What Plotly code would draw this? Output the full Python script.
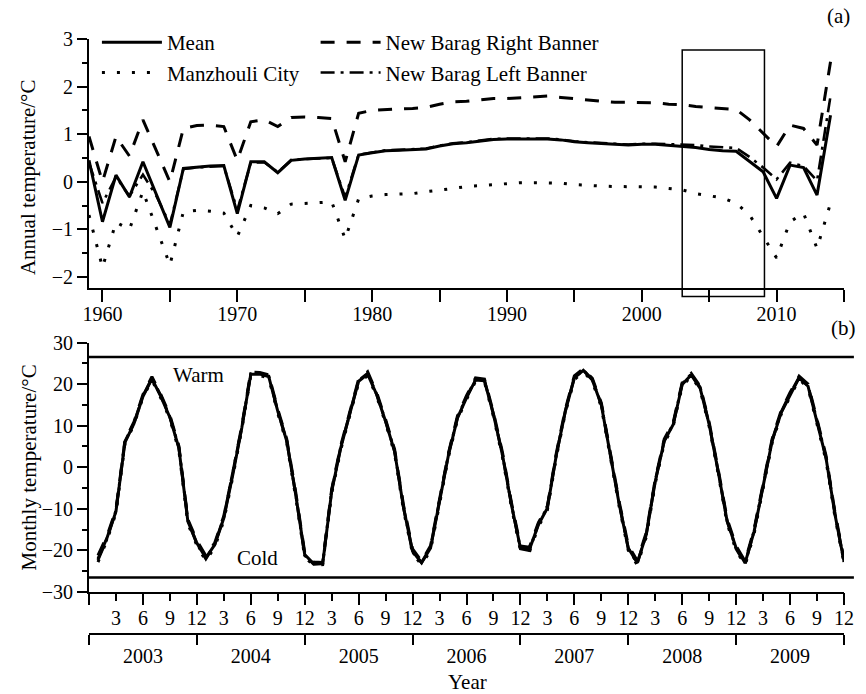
import plotly.graph_objects as go

# ---------------- data: panel (a) annual temperature ----------------
years = list(range(1959, 2015))
mean_annual = [0.45, -0.84, 0.14, -0.32, 0.42, -0.26, -0.96, 0.28, 0.31, 0.33,
               0.34, -0.67, 0.42, 0.42, 0.19, 0.45, 0.48, 0.49, 0.51, -0.39,
               0.56, 0.61, 0.65, 0.66, 0.67, 0.69, 0.75, 0.80, 0.82, 0.86,
               0.89, 0.90, 0.90, 0.90, 0.90, 0.88, 0.84, 0.82, 0.81, 0.79,
               0.77, 0.79, 0.79, 0.77, 0.74, 0.72, 0.68, 0.65, 0.64, 0.43,
               0.21, -0.35, 0.35, 0.30, -0.28, 1.40]
manzhouli_annual = [-0.70, -1.80, -0.85, -1.00, -0.20, -0.97, -1.75, -0.63, -0.60, -0.62,
                    -0.66, -1.15, -0.50, -0.55, -0.67, -0.47, -0.46, -0.44, -0.42, -1.20,
                    -0.36, -0.30, -0.27, -0.26, -0.25, -0.21, -0.18, -0.14, -0.10, -0.08,
                    -0.05, -0.03, -0.02, -0.02, -0.02, -0.03, -0.06, -0.08, -0.09, -0.10,
                    -0.10, -0.10, -0.11, -0.14, -0.17, -0.25, -0.30, -0.34, -0.45, -0.70,
                    -1.15, -1.60, -0.84, -0.66, -1.40, -0.45]
right_banner_annual = [0.95, 0.00, 0.95, 0.54, 1.30, 0.65, 0.00, 1.12, 1.18, 1.19,
                       1.16, 0.45, 1.26, 1.30, 1.16, 1.35, 1.36, 1.35, 1.33, 0.42,
                       1.44, 1.50, 1.52, 1.53, 1.54, 1.56, 1.63, 1.68, 1.69, 1.72,
                       1.75, 1.75, 1.77, 1.79, 1.80, 1.77, 1.75, 1.72, 1.69, 1.67,
                       1.67, 1.66, 1.66, 1.63, 1.62, 1.58, 1.56, 1.53, 1.52, 1.30,
                       1.02, 0.74, 1.19, 1.12, 0.77, 2.52]
left_banner_annual = [0.40, -0.45, 0.10, -0.30, 0.15, -0.30, -0.90, 0.27, 0.30, 0.32,
                      0.33, -0.60, 0.40, 0.41, 0.20, 0.46, 0.48, 0.49, 0.50, -0.33,
                      0.57, 0.62, 0.66, 0.67, 0.68, 0.70, 0.76, 0.81, 0.83, 0.87,
                      0.90, 0.91, 0.91, 0.91, 0.91, 0.89, 0.85, 0.83, 0.82, 0.80,
                      0.78, 0.80, 0.80, 0.79, 0.78, 0.77, 0.74, 0.72, 0.71, 0.52,
                      0.30, 0.05, 0.40, 0.33, 0.02, 1.80]

# ---------------- data: panel (b) monthly temperature 2003-2009 ----------------
month_index = list(range(1, 85))   # 1 = Jan 2003 ... 84 = Dec 2009
mean_monthly = [
    -22.0, -17.0, -10.6, 6.0, 10.5, 17.0, 21.3, 17.0, 12.0, 4.6, -13.0, -18.2,
    -21.8, -18.6, -12.2, -1.8, 9.5, 22.4, 22.4, 21.8, 13.5, 6.3, -6.6, -21.0,
    -23.2, -23.2, -5.8, 4.6, 12.7, 20.7, 22.4, 17.5, 11.0, 3.8, -9.8, -20.2,
    -23.0, -19.4, -8.2, 3.0, 11.9, 16.7, 21.0, 20.8, 12.7, 3.0, -9.0, -19.4,
    -19.8, -13.8, -9.8, 3.0, 13.5, 21.5, 23.3, 21.0, 15.0, 3.0, -9.0, -19.4,
    -23.0, -16.2, -3.4, 6.3, 10.3, 19.9, 22.2, 19.0, 10.3, -1.0, -13.0, -19.4,
    -23.0, -15.4, -4.2, 6.3, 13.1, 17.5, 21.5, 19.5, 11.0, 2.2, -11.4, -22.6]
manzhouli_monthly = [
    -22.8, -17.6, -11.0, 5.6, 10.2, 16.8, 21.0, 16.6, 11.6, 4.0, -13.6, -18.8,
    -22.5, -19.2, -12.8, -2.3, 9.1, 22.0, 22.1, 21.4, 13.0, 5.8, -7.2, -21.6,
    -23.6, -23.4, -6.3, 4.1, 12.3, 20.3, 22.0, 17.1, 10.6, 3.3, -10.4, -20.8,
    -23.4, -20.0, -8.8, 2.5, 11.5, 16.3, 20.6, 20.5, 12.2, 2.4, -9.6, -20.0,
    -20.4, -14.3, -10.3, 2.5, 13.1, 21.1, 23.0, 20.6, 14.5, 2.4, -9.6, -20.0,
    -23.5, -16.8, -3.9, 5.8, 9.9, 19.5, 21.9, 18.6, 9.8, -1.5, -13.6, -20.0,
    -23.6, -16.0, -4.8, 5.8, 12.7, 17.1, 21.2, 19.1, 10.5, 1.6, -12.0, -23.1]
right_banner_monthly = [
    -21.2, -16.5, -10.2, 6.5, 10.9, 17.5, 21.8, 17.5, 12.5, 5.1, -12.5, -17.6,
    -21.3, -18.1, -11.7, -1.3, 10.0, 22.9, 22.8, 22.2, 14.0, 6.8, -6.0, -20.5,
    -22.8, -22.9, -5.3, 5.1, 13.2, 21.2, 23.0, 18.0, 11.5, 4.3, -9.2, -19.6,
    -22.6, -18.9, -7.7, 3.5, 12.4, 17.2, 21.5, 21.2, 13.2, 3.6, -8.5, -18.9,
    -19.2, -13.3, -9.3, 3.5, 14.0, 22.0, 23.7, 21.4, 15.5, 3.6, -8.4, -18.8,
    -22.5, -15.7, -2.9, 6.8, 10.8, 20.4, 22.6, 19.5, 10.8, -0.5, -12.4, -18.9,
    -22.6, -14.9, -3.7, 6.8, 13.6, 18.0, 21.9, 20.0, 11.5, 2.8, -10.9, -22.1]
left_banner_monthly = [
    -22.3, -17.2, -10.4, 6.2, 10.6, 17.2, 21.4, 17.2, 12.1, 4.8, -12.8, -18.4,
    -22.0, -18.5, -12.0, -1.6, 9.6, 22.5, 22.6, 21.9, 13.6, 6.4, -6.5, -21.2,
    -23.3, -23.1, -5.6, 4.8, 12.8, 20.9, 22.6, 17.6, 11.1, 3.9, -9.7, -20.4,
    -22.9, -19.2, -8.0, 3.2, 12.0, 16.9, 21.1, 20.9, 12.8, 3.1, -8.9, -19.6,
    -20.0, -13.6, -9.6, 3.1, 13.6, 21.6, 23.4, 21.1, 15.1, 3.1, -8.8, -19.6,
    -23.1, -16.1, -3.2, 6.4, 10.4, 20.1, 22.4, 19.2, 10.4, -0.9, -12.9, -19.6,
    -23.2, -15.2, -4.0, 6.4, 13.2, 17.7, 21.6, 19.6, 11.2, 2.3, -11.2, -22.8]

series_names = ["Mean", "Manzhouli City", "New Barag Right Banner", "New Barag Left Banner"]
year_labels = ["2003", "2004", "2005", "2006", "2007", "2008", "2009"]
month_labels = ["3", "6", "9", "12"]
warm_level, cold_level = 26.5, -26.5

# ---------------- layout geometry (pixels) ----------------
W, H = 866, 694
ML, MR, MT, MB = 89, 14, 39, 60.7
PW = W - ML - MR
PH = H - MT - MB


def py(p):
    return (H - MB - p) / PH


def pxx(p):
    return (p - ML) / PW


FONT = "Liberation Serif"
styles = [
    dict(color="black", width=3, dash="solid"),
    dict(color="black", width=3, dash="3px,12px"),
    dict(color="black", width=3, dash="14px,12px"),
    dict(color="black", width=2.6, dash="14px,6px,3px,6px"),
]
legends = ["legend", "legend", "legend2", "legend2"]

fig = go.Figure()
annual = [mean_annual, manzhouli_annual, right_banner_annual, left_banner_annual]
monthly = [mean_monthly, manzhouli_monthly, right_banner_monthly, left_banner_monthly]
for name, ys, st, lg in zip(series_names, annual, styles, legends):
    fig.add_trace(go.Scatter(x=years, y=ys, name=name, mode="lines", line=st,
                             xaxis="x", yaxis="y", legend=lg))
for name, ys, st in zip(series_names, monthly, styles):
    st2 = dict(st)
    st2["width"] = 3
    fig.add_trace(go.Scatter(x=month_index, y=ys, name=name, mode="lines", line=st2,
                             xaxis="x2", yaxis="y2", showlegend=False))
# dummy traces so helper axes exist
fig.add_trace(go.Scatter(x=[None], y=[None], xaxis="x3", yaxis="y3", showlegend=False, hoverinfo="skip"))
fig.add_trace(go.Scatter(x=[None], y=[None], xaxis="x4", yaxis="y2", showlegend=False, hoverinfo="skip"))

axis_common = dict(showgrid=False, zeroline=False, showline=True, linecolor="black",
                   linewidth=2, ticks="outside", tickcolor="black", tickwidth=2,
                   tickfont=dict(family=FONT, size=20, color="black"))

top_ticks = list(range(1960, 2016, 5))
top_text = [str(v) if v % 10 == 0 else "" for v in top_ticks]
month_ticks = list(range(3, 85, 3))
month_text = [month_labels[i % 4] for i in range(len(month_ticks))]

legend_common = dict(xanchor="left", yanchor="top", bgcolor="rgba(0,0,0,0)",
                     font=dict(family=FONT, size=21, color="black"),
                     tracegroupgap=0, itemwidth=60)

fig.update_layout(
    width=W, height=H,
    margin=dict(l=ML, r=MR, t=MT, b=MB, pad=0),
    paper_bgcolor="white", plot_bgcolor="white",
    font=dict(family=FONT, size=21, color="black"),
    xaxis=dict(axis_common, domain=[0, 1], range=[1959, 2015], anchor="y",
               tickmode="array", tickvals=top_ticks, ticktext=top_text, ticklen=12,
               ticklabelstandoff=-5),
    yaxis=dict(axis_common, domain=[py(288), 1], range=[-2.23, 3], anchor="x",
               tickmode="array", tickvals=[-2, -1, 0, 1, 2, 3], ticklen=10,
               minor=dict(dtick=0.5, tick0=0, ticks="outside", ticklen=5, tickwidth=1.5, tickcolor="black")),
    xaxis2=dict(axis_common, domain=[0, 1], range=[0, 84], anchor="y2",
                tickmode="array", tickvals=month_ticks, ticktext=month_text, ticklen=7),
    xaxis4=dict(overlaying="x2", anchor="y2", side="bottom", range=[0, 84], showgrid=False,
                zeroline=False, showline=False, ticks="outside", ticklen=12, tickwidth=2,
                tickcolor="black", tickmode="array", tickvals=list(range(0, 85, 6)),
                showticklabels=False),
    yaxis2=dict(axis_common, domain=[py(592.3), py(342.7)], range=[-30, 30], anchor="x2",
                tickmode="array", tickvals=[-30, -20, -10, 0, 10, 20, 30], ticklen=10,
                minor=dict(dtick=5, tick0=0, ticks="outside", ticklen=5, tickwidth=1.5, tickcolor="black")),
    xaxis3=dict(axis_common, domain=[0, 1], range=[0, 84], anchor="y3",
                tickmode="array", tickvals=list(range(6, 84, 12)), ticktext=year_labels,
                ticklen=4, tickcolor="rgba(0,0,0,0)",
                minor=dict(tick0=0, dtick=12, ticks="outside", ticklen=10, tickwidth=2, tickcolor="black")),
    yaxis3=dict(domain=[0, 0.002], anchor="x3", visible=False, range=[0, 1]),
    legend=dict(legend_common, x=pxx(97), y=py(22)),
    legend2=dict(legend_common, x=pxx(318), y=py(22)),
    showlegend=True,
)

# threshold lines and highlight box
fig.add_shape(type="line", xref="paper", yref="y2", x0=0, x1=pxx(862),
              y0=warm_level, y1=warm_level, line=dict(color="black", width=2.5))
fig.add_shape(type="line", xref="paper", yref="y2", x0=0, x1=pxx(862),
              y0=cold_level, y1=cold_level, line=dict(color="black", width=2.5))
fig.add_shape(type="rect", xref="x", yref="paper", x0=2003, x1=2009.1,
              y0=py(296.7), y1=py(50), line=dict(color="black", width=1.5))

ann = dict(showarrow=False, font=dict(family=FONT, size=21, color="black"))
fig.add_annotation(text="Annual temperature/°C", xref="paper", yref="paper",
                   x=pxx(28), y=py(177.5), textangle=-90, xanchor="center", yanchor="middle", **ann)
fig.add_annotation(text="Monthly temperature/°C", xref="paper", yref="paper",
                   x=pxx(28), y=py(468), textangle=-90, xanchor="center", yanchor="middle", **ann)
fig.add_annotation(text="Year", xref="paper", yref="paper", x=pxx(471.7), y=py(682),
                   xanchor="center", yanchor="middle", **ann)
fig.add_annotation(text="(a)", xref="paper", yref="paper", x=pxx(846.7), y=py(16),
                   xanchor="center", yanchor="middle", **ann)
fig.add_annotation(text="(b)", xref="paper", yref="paper", x=pxx(851.7), y=py(328),
                   xanchor="center", yanchor="middle", **ann)
fig.add_annotation(text="Warm", xref="x2", yref="y2", x=12.2, y=22.3,
                   xanchor="center", yanchor="middle", **ann)
fig.add_annotation(text="Cold", xref="x2", yref="y2", x=18.7, y=-21.7,
                   xanchor="center", yanchor="middle", **ann)

fig.write_html("out.html")
